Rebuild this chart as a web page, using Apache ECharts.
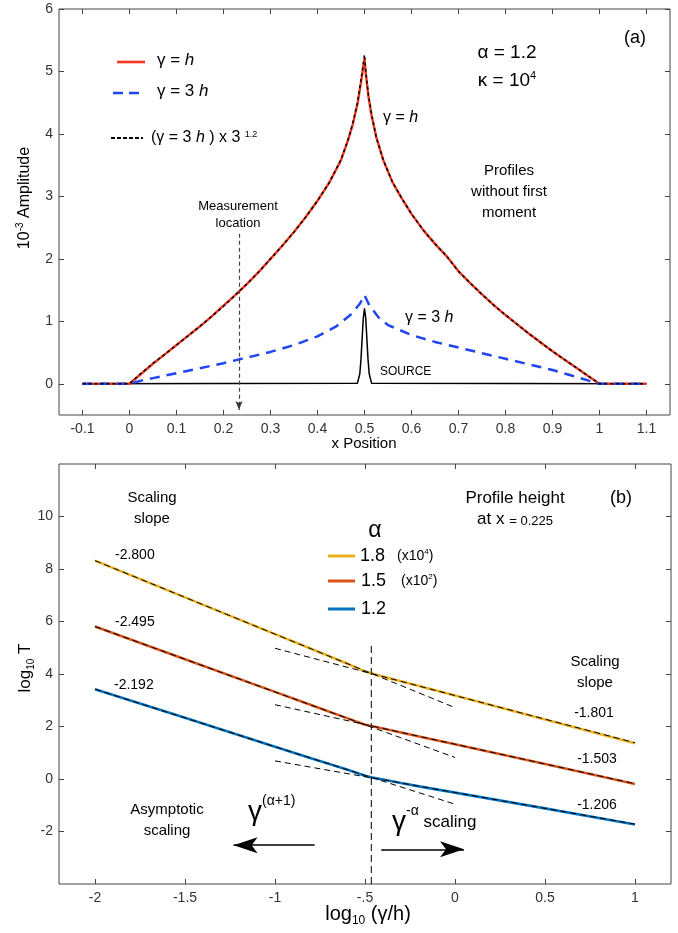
<!DOCTYPE html>
<html><head><meta charset="utf-8">
<script src="https://cdn.jsdelivr.net/npm/echarts@6/dist/echarts.min.js"></script>
<style>html,body{margin:0;padding:0;background:#fff}#c{width:678px;height:933px}</style>
</head><body><div id="c"></div>
<script>
// ---------- Panel (a) data ----------
const topXTicks = [-0.1,0,0.1,0.2,0.3,0.4,0.5,0.6,0.7,0.8,0.9,1,1.1];
const topYTicks = [0,1,2,3,4,5,6];
const redX = [-0.1,0,0.025,0.05,0.075,0.1,0.125,0.15,0.175,0.2,0.225,0.25,0.275,0.3,0.325,0.35,0.375,0.4,0.425,0.45,0.465,0.475,0.485,0.492,0.497,0.5,0.503,0.508,0.515,0.525,0.54,0.56,0.58,0.6,0.625,0.65,0.675,0.7,0.725,0.75,0.775,0.8,0.825,0.85,0.875,0.9,0.925,0.95,0.975,1,1.1];
const redY = [0,0,0.16,0.32,0.47,0.62,0.77,0.92,1.08,1.25,1.42,1.60,1.79,2.00,2.21,2.43,2.67,2.93,3.22,3.58,3.90,4.15,4.48,4.80,5.05,5.20,4.95,4.62,4.30,3.95,3.58,3.22,2.96,2.72,2.46,2.24,2.04,1.80,1.61,1.43,1.26,1.10,0.95,0.80,0.66,0.52,0.39,0.26,0.13,0,0];
const scaledY = [0,0,0.17,0.33,0.47,0.62,0.77,0.92,1.08,1.24,1.42,1.60,1.79,2.00,2.21,2.43,2.67,2.93,3.22,3.59,3.91,4.17,4.50,4.84,5.10,5.27,4.98,4.64,4.31,3.95,3.58,3.22,2.96,2.72,2.46,2.24,2.04,1.80,1.61,1.43,1.26,1.10,0.95,0.80,0.66,0.52,0.39,0.26,0.13,0,0];
const blueX = [-0.1,0,0.025,0.05,0.1,0.15,0.2,0.25,0.3,0.35,0.4,0.44,0.47,0.49,0.5,0.51,0.53,0.55,0.6,0.65,0.7,0.75,0.8,0.85,0.9,0.95,1,1.1];
const blueY = [0,0,0.05,0.09,0.17,0.25,0.33,0.42,0.51,0.62,0.76,0.92,1.10,1.28,1.42,1.26,1.06,0.94,0.78,0.67,0.58,0.49,0.40,0.31,0.22,0.11,0,0];
const srcX = [-0.1,0.485,0.49,0.4925,0.495,0.4975,0.5,0.5025,0.505,0.5075,0.51,0.515,1.1];
const srcY = [0,0.01,0.16,0.39,0.73,1.06,1.2,1.06,0.73,0.39,0.16,0.01,0];
const measureX = [0.233,0.233];
const measureY = [2.4,-0.42];

// ---------- Panel (b) data ----------
const botXTicks = [-2,-1.5,-1,-0.5,0,0.5,1];
const botYTicks = [-2,0,2,4,6,8,10];
const logX = [-2,-1.5,-1,-0.8,-0.6,-0.5,-0.46,-0.4,-0.3,-0.2,0,0.5,1];
const y18 = [8.32,6.92,5.52,4.96,4.40,4.10,4.02,3.90,3.72,3.54,3.18,2.27,1.36];
const y15 = [5.81,4.56,3.32,2.82,2.32,2.07,2.01,1.92,1.77,1.62,1.32,0.57,-0.19];
const y12 = [3.42,2.33,1.23,0.79,0.36,0.12,0.06,-0.02,-0.15,-0.28,-0.52,-1.12,-1.73];
const steepX = [-2,0];
const shallowX = [-1,1];
const fit18Steep = [8.32,2.72], fit18Shallow = [4.98,1.38];
const fit15Steep = [5.81,0.82], fit15Shallow = [2.83,-0.18];
const fit12Steep = [3.42,-0.96], fit12Shallow = [0.69,-1.72];
const crossX = [-0.465,-0.465], crossY = [-4,5.2];
const leftArrowX = [-0.78,-1.23], leftArrowY = [-2.52,-2.52];
const rightArrowX = [-0.41,0.05], rightArrowY = [-2.68,-2.68];

const zip = (xs, ys) => xs.map((x, i) => [x, ys[i]]);
const FF = 'Liberation Sans, Arial, Helvetica, sans-serif';
const G0 = {left: 59, right: 8, top: 9, height: 406};
const G1 = {left: 59, right: 7, top: 464, height: 420};

function xAx(grid, min, max, ticks, fmt, pos, showLabel) {
  return {type:'value', gridIndex:grid, min, max, position:pos,
    axisLine:{show:false, onZero:false}, splitLine:{show:false},
    axisTick:{show:true, inside:true, length:5, customValues:ticks, lineStyle:{color:'#444'}},
    axisLabel:{show:showLabel, customValues:ticks, formatter:fmt, margin:7, color:'#333', fontSize:14, fontFamily:FF}};
}
function yAx(grid, min, max, ticks, pos, showLabel) {
  return {type:'value', gridIndex:grid, min, max, position:pos,
    axisLine:{show:false, onZero:false}, splitLine:{show:false},
    axisTick:{show:true, inside:true, length:5, customValues:ticks, lineStyle:{color:'#444'}},
    axisLabel:{show:showLabel, customValues:ticks, margin:6, color:'#333', fontSize:14, fontFamily:FF}};
}
const fmtTop = v => String(v);
const fmtBot = v => v === -0.5 ? '-.5' : String(v);

function line(name, xi, yi, data, color, width, type, z) {
  return {name, type:'line', xAxisIndex:xi, yAxisIndex:yi, data, showSymbol:false, symbol:'none',
    silent:true, z:z||2, lineStyle:{color, width, type:type||'solid', join:'round'}, animation:false};
}
function arrowLine(xs, ys, color, width, dash) {
  return [{coord:[xs[0],ys[0]], lineStyle:{color, width, type:dash||'solid'}},{coord:[xs[1],ys[1]]}];
}

const series = [
  Object.assign(line('SOURCE',0,0,zip(srcX,srcY),'#000',1.5,'solid',1), {
    markLine:{silent:true, symbol:'none', label:{show:false}, animation:false,
      lineStyle:{color:'#444', width:1.2, type:[4,3]},
      data:[arrowLine(measureX, measureY, '#444', 1.2, [4,3])]}
  }),
  line('γ = h',0,0,zip(redX,redY),'#f2351d',2.4,'solid',2),
  line('γ = 3 h',0,0,zip(blueX,blueY),'#1f45f5',2.5,[10,7],3),
  line('(γ = 3 h) x 3^1.2',0,0,zip(redX,scaledY),'#000',1.5,[3,3],4),
  line('1.8',2,2,zip(logX,y18),'#EDB120',2.6,'solid',2),
  line('1.5',2,2,zip(logX,y15),'#D95319',2.6,'solid',2),
  line('1.2',2,2,zip(logX,y12),'#0072BD',2.6,'solid',2),
  line('fit18s',2,2,zip(steepX,fit18Steep),'#000',1,[6,4],4),
  line('fit18h',2,2,zip(shallowX,fit18Shallow),'#000',1,[6,4],4),
  line('fit15s',2,2,zip(steepX,fit15Steep),'#000',1,[6,4],4),
  line('fit15h',2,2,zip(shallowX,fit15Shallow),'#000',1,[6,4],4),
  line('fit12s',2,2,zip(steepX,fit12Steep),'#000',1,[6,4],4),
  line('fit12h',2,2,zip(shallowX,fit12Shallow),'#000',1,[6,4],4),
  Object.assign(line('cross',2,2,zip(crossX,crossY),'#000',1,[7,4],3), {
    markLine:{silent:true, symbol:'none', label:{show:false}, animation:false,
      lineStyle:{color:'#000', width:1.5, type:'solid'},
      data:[arrowLine(leftArrowX, leftArrowY, '#000', 1.5),
            arrowLine(rightArrowX, rightArrowY, '#000', 1.5)]}
  })
];

function T(x, y, text, size, opt) {
  opt = opt || {};
  return {type:'text', x, y, rotation:opt.rot||0, silent:true, z:100,
    style:Object.assign({text, fontSize:size, fontFamily:FF, fill:'#000',
      align:opt.align||'left', verticalAlign:'middle', lineHeight:opt.lh||undefined,
      rich:opt.rich||undefined}, opt.style||{})};
}
function L(x1, y1, x2, y2, color, width, dash) {
  return {type:'line', silent:true, z:100, shape:{x1,y1,x2,y2},
    style:{stroke:color, lineWidth:width, lineDash:dash||null}};
}
const richBase = (s) => ({n:{fontSize:s, fontFamily:FF, fill:'#000'},
  i:{fontSize:s, fontFamily:FF, fontStyle:'italic', fill:'#000'}});

const graphic = [
  // panel (a) legend
  L(117,62,145,62,'#f2351d',2.6),
  L(113,93,145,93,'#1f45f5',2.6,[10,6]),
  L(111,138,143,138,'#000',2.2,[4,2]),
  T(157,60,'{n|γ = }{i|h}',17,{rich:richBase(17)}),
  T(157,91,'{n|γ = 3 }{i|h}',17,{rich:richBase(17)}),
  T(151,138,'{n|(γ = 3 }{i|h}{n| ) x 3 }{s|1.2}',16,{rich:Object.assign(richBase(16),{s:{fontSize:9,fontFamily:FF,verticalAlign:'top',fill:'#000'}})}),
  T(507,53,'α = 1.2',19,{align:'center'}),
  T(507,81,'{n|κ = 10}{s|4}',19,{align:'center',rich:{n:{fontSize:19,fontFamily:FF,fill:'#000',lineHeight:22},s:{fontSize:11,fontFamily:FF,verticalAlign:'top',fill:'#000'}}}),
  T(635,38,'(a)',18,{align:'center'}),
  T(383,118,'{n|γ = }{i|h}',16,{rich:richBase(16)}),
  T(509,192,'Profiles\nwithout first\nmoment',15,{align:'center',lh:21}),
  T(405,318,'{n|γ = 3 }{i|h}',16,{rich:richBase(16)}),
  T(380,372,'SOURCE',12),
  T(238,215,'Measurement\nlocation',13,{align:'center',lh:17}),
  T(364,444,'x Position',15,{align:'center'}),
  T(25,198,'{n|10}{s|-3}{n| Amplitude}',16,{align:'center',rot:Math.PI/2,
    rich:{n:{fontSize:16,fontFamily:FF,fill:'#000',lineHeight:20},s:{fontSize:10,fontFamily:FF,verticalAlign:'top',fill:'#000'}}}),
  // panel (b)
  T(152,508,'Scaling\nslope',15,{align:'center',lh:21}),
  T(115,555,'-2.800',14),
  T(115,622,'-2.495',14),
  T(114,685,'-2.192',14),
  T(167,820,'Asymptotic\nscaling',15,{align:'center',lh:21}),
  T(248,812,'{g|γ}{s|(α+1)}',26,{rich:{g:{fontSize:28,fontFamily:FF,fill:'#000',lineHeight:36},s:{fontSize:14,fontFamily:FF,verticalAlign:'top',fill:'#000'}}}),
  T(375,531,'α',23,{align:'center'}),
  L(328,556,355,556,'#EDB120',3),
  L(328,581,355,581,'#D95319',3),
  L(328,609,355,609,'#0072BD',3),
  T(360,556,'1.8',18),
  T(397,556,'{n|(x10}{s|4}{n|)}',14,{rich:{n:{fontSize:14,fontFamily:FF,fill:'#000',lineHeight:17},s:{fontSize:8,fontFamily:FF,verticalAlign:'top',fill:'#000'}}}),
  T(361,581,'1.5',18),
  T(401,581,'{n|(x10}{s|2}{n|)}',14,{rich:{n:{fontSize:14,fontFamily:FF,fill:'#000',lineHeight:17},s:{fontSize:8,fontFamily:FF,verticalAlign:'top',fill:'#000'}}}),
  T(361,609,'1.2',18),
  T(515,498,'Profile height',17,{align:'center'}),
  T(515,519,'{n|at x }{m|= 0.225}',17,{align:'center',rich:{n:{fontSize:17,fontFamily:FF,fill:'#000'},m:{fontSize:13,fontFamily:FF,fill:'#000',verticalAlign:'bottom'}}}),
  T(621,498,'(b)',18,{align:'center'}),
  T(595,672,'Scaling\nslope',15,{align:'center',lh:21}),
  T(594,713,'-1.801',14,{align:'center'}),
  T(597,759,'-1.503',14,{align:'center'}),
  T(597,805,'-1.206',14,{align:'center'}),
  T(392,822,'{g|γ}{s|-α}{n| scaling}',16,{rich:{g:{fontSize:28,fontFamily:FF,fill:'#000',lineHeight:36},s:{fontSize:14,fontFamily:FF,verticalAlign:'top',fill:'#000'},n:{fontSize:17,fontFamily:FF,fill:'#000'}}}),
  T(368,914,'{n|log}{b|10}{n| (γ/h)}',20,{align:'center',rich:{n:{fontSize:20,fontFamily:FF,fill:'#000',lineHeight:26},b:{fontSize:12,fontFamily:FF,verticalAlign:'bottom',fill:'#000'}}}),
  T(25,668,'{n|log}{b|10}{n| T}',17,{align:'center',rot:Math.PI/2,
    rich:{n:{fontSize:17,fontFamily:FF,fill:'#000',lineHeight:22},b:{fontSize:10,fontFamily:FF,verticalAlign:'bottom',fill:'#000'}}})
];

const chart = echarts.init(document.getElementById('c'), null, {renderer:'canvas'});
chart.setOption({
  animation:false,
  backgroundColor:'#fff',
  grid:[Object.assign({show:true, borderColor:'#444', borderWidth:1, backgroundColor:'transparent'},G0),
        Object.assign({show:true, borderColor:'#444', borderWidth:1, backgroundColor:'transparent'},G1)],
  xAxis:[xAx(0,-0.15,1.15,topXTicks,fmtTop,'bottom',true),
         xAx(0,-0.15,1.15,topXTicks,fmtTop,'top',false),
         xAx(1,-2.2,1.2,botXTicks,fmtBot,'bottom',true),
         xAx(1,-2.2,1.2,botXTicks,fmtBot,'top',false)],
  yAxis:[yAx(0,-0.5,6,topYTicks,'left',true),
         yAx(0,-0.5,6,topYTicks,'right',false),
         yAx(1,-4,12,botYTicks,'left',true),
         yAx(1,-4,12,botYTicks,'right',false)],
  series,
  graphic
});

// Arrowheads placed at the data end points through the chart's own coordinate conversion
function head(gridIndex, xs, ys, len, half, notch, color) {
  const p0 = chart.convertToPixel({gridIndex}, [xs[0], ys[0]]);
  const p1 = chart.convertToPixel({gridIndex}, [xs[1], ys[1]]);
  const dx = p1[0]-p0[0], dy = p1[1]-p0[1], d = Math.hypot(dx,dy);
  const ux = dx/d, uy = dy/d, nx = -uy, ny = ux;
  const tip = p1, bx = p1[0]-ux*len, by = p1[1]-uy*len;
  return {type:'polygon', silent:true, z:101,
    shape:{points:[tip,[bx+nx*half,by+ny*half],[bx+ux*notch,by+uy*notch],[bx-nx*half,by-ny*half]]},
    style:{fill:color}};
}
chart.setOption({graphic: graphic.concat([
  head(0, measureX, measureY, 9, 3.5, 2, '#333'),
  head(1, leftArrowX, leftArrowY, 24, 8, 6, '#000'),
  head(1, rightArrowX, rightArrowY, 24, 8, 6, '#000')
])});
</script></body></html>
